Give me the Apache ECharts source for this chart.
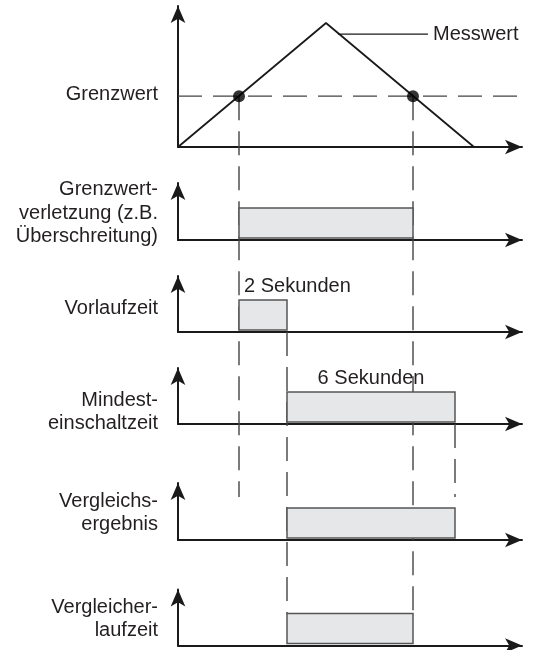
<!DOCTYPE html>
<html><head><meta charset="utf-8">
<script src="https://cdn.jsdelivr.net/npm/echarts@6/dist/echarts.min.js"></script>
<style>html,body{margin:0;padding:0;background:#fff}#c{width:534px;height:650px}</style>
</head><body><div id="c"></div>
<script>
// ---------- data ----------
const timeMax = 344;
const messwertT = [0, 148, 296];
const messwertV = [0, 100, 0];
const grenzwert = 41;
const crossings = [61, 235];
const vorlaufEnde = 109;
const mindestEnde = 277;
const leaderT = [160, 250];
const leaderV = 91;
const panelLabels = [
  ['Grenzwert'],
  ['Grenzwert-', 'verletzung (z.B.', 'Überschreitung)'],
  ['Vorlaufzeit'],
  ['Mindest-', 'einschaltzeit'],
  ['Vergleichs-', 'ergebnis'],
  ['Vergleicher-', 'laufzeit']
];
const intervals = [null, [61, 235], [61, 109], [109, 277], [109, 277], [109, 235]];
const boxLevel = [2, 32];
const annotations = [null, null, '2 Sekunden', '6 Sekunden', null, null];
const annotationAlign = [null, null, 'left', 'center', null, null];

// ---------- layout ----------
const FONT = "'Liberation Sans', Arial, Helvetica, sans-serif";
const TXT = '#231f20';
const L = 178, W = 344;
const bases = [147, 240, 332, 424, 540, 645.5];
const tops = [6, 183, 276, 368, 483, 589.5];
const pxPerUnit = [1.24, 1, 1, 1, 1, 1];
const heights = bases.map((b, i) => b - tops[i]);
const yMax = heights.map((h, i) => h / pxPerUnit[i]);
const labelY = [94, 213, 308, 412, 513, 619];

function yPix(p, v) { return bases[p] - v * pxPerUnit[p]; }

const grids = [], xAxes = [], yAxes = [], series = [];
const axisLine = {show: true, symbol: ['none', 'arrow'], symbolSize: [11, 17], lineStyle: {color: '#1a1a1a', width: 2}};
for (let i = 0; i < 6; i++) {
  grids.push({left: L, width: W, top: tops[i], height: heights[i]});
  xAxes.push({type: 'value', gridIndex: i, min: 0, max: timeMax, axisLine, axisTick: {show: false}, axisLabel: {show: false}, splitLine: {show: false}});
  yAxes.push({type: 'value', gridIndex: i, min: 0, max: yMax[i], axisLine, axisTick: {show: false}, axisLabel: {show: false}, splitLine: {show: false}});
}
// overlay grid for guide lines
grids.push({left: L, width: W, top: 0, height: 650});
xAxes.push({type: 'value', gridIndex: 6, min: 0, max: timeMax, show: false});
yAxes.push({type: 'value', gridIndex: 6, min: 0, max: 650, inverse: true, show: false});

const guides = [
  {t: crossings[0], from: yPix(0, grenzwert), to: 497},
  {t: crossings[1], from: yPix(0, grenzwert), to: yPix(5, boxLevel[1])},
  {t: vorlaufEnde, from: bases[2], to: yPix(5, boxLevel[1])},
  {t: mindestEnde, from: bases[3], to: 497}
];
const dashStyle = {color: '#444', width: 1.4, type: [24, 11]};
guides.forEach(g => series.push({
  type: 'line', xAxisIndex: 6, yAxisIndex: 6, data: [[g.t, g.from], [g.t, g.to]],
  symbol: 'none', silent: true, z: 1, clip: false, lineStyle: dashStyle
}));

// Grenzwert dashed
series.push({type: 'line', xAxisIndex: 0, yAxisIndex: 0, data: [[0, grenzwert], [timeMax, grenzwert]], clip: false,
  symbol: 'none', silent: true, z: 1, lineStyle: dashStyle});
// Messwert
series.push({type: 'line', xAxisIndex: 0, yAxisIndex: 0, data: messwertT.map((t, k) => [t, messwertV[k]]),
  symbol: 'none', z: 3, lineStyle: {color: '#1a1a1a', width: 1.8}});
// leader + label
series.push({type: 'line', xAxisIndex: 0, yAxisIndex: 0, data: leaderT.map(t => [t, leaderV]), clip: false,
  symbol: 'none', z: 3, lineStyle: {color: '#1a1a1a', width: 1.2},
  endLabel: {show: true, formatter: 'Messwert', distance: 5, fontSize: 20, fontFamily: FONT, color: TXT}});
// points
series.push({type: 'scatter', xAxisIndex: 0, yAxisIndex: 0, data: crossings.map(t => [t, grenzwert]),
  symbolSize: 12, z: 4, itemStyle: {color: '#000'}});

// boxes
for (let i = 1; i < 6; i++) {
  const iv = intervals[i];
  series.push({
    type: 'custom', xAxisIndex: i, yAxisIndex: i, z: 3,
    data: [[iv[0], iv[1], boxLevel[0], boxLevel[1]]],
    encode: {x: [0, 1], y: [2, 3]},
    renderItem: function (params, api) {
      const p0 = api.coord([api.value(0), api.value(3)]);
      const p1 = api.coord([api.value(1), api.value(2)]);
      const children = [{type: 'rect', shape: {x: p0[0], y: p0[1], width: p1[0] - p0[0], height: p1[1] - p0[1]},
        style: {fill: '#e6e7e8', stroke: '#555', lineWidth: 1.5}}];
      if (annotations[i]) {
        const al = annotationAlign[i];
        children.push({type: 'text', x: al === 'left' ? p0[0] + 5 : (p0[0] + p1[0]) / 2, y: p0[1] - 14,
          style: {text: annotations[i], fill: TXT, fontSize: 20, fontFamily: FONT, textAlign: al, textVerticalAlign: 'middle'}});
      }
      return {type: 'group', children};
    }
  });
}

const graphics = panelLabels.map((lines, i) => ({
  type: 'text', right: 534 - 158, top: labelY[i] - lines.length * 23.5 / 2,
  style: {text: lines.join('\n'), fill: TXT, fontSize: 20, fontFamily: FONT, lineHeight: 23.5, textAlign: 'right'}
}));

const chart = echarts.init(document.getElementById('c'));
chart.setOption({animation: false, grid: grids, xAxis: xAxes, yAxis: yAxes, series, graphic: graphics});
</script>
</body></html>
